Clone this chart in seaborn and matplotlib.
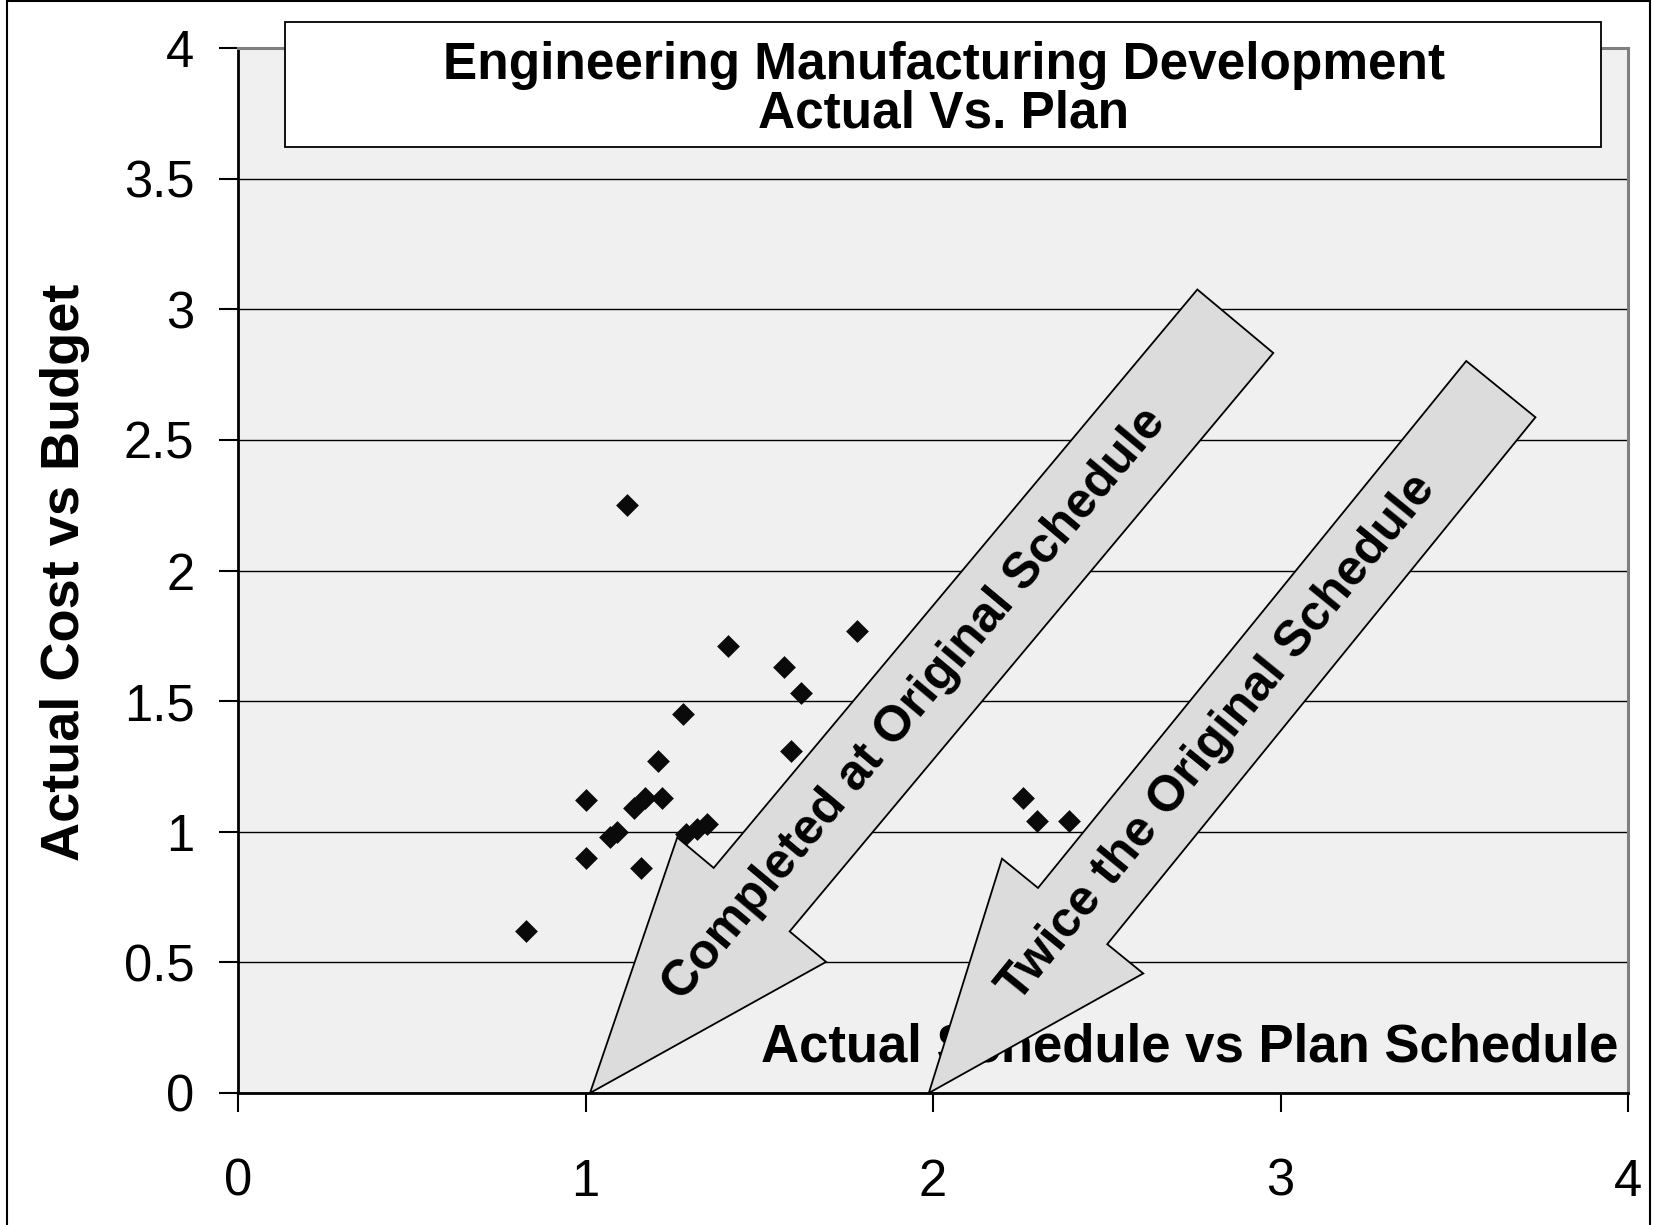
import numpy as np
import pandas as pd
import seaborn as sns
import matplotlib.pyplot as plt
from matplotlib.patches import Polygon, Rectangle
from matplotlib import transforms

# Programme outcomes: schedule ratio (actual / plan) and cost ratio (actual / budget)
schedule_ratio = [1.12, 1.41, 1.78, 1.57, 1.62, 1.28, 1.59, 1.21, 1.00, 1.22,
                  1.17, 1.14, 1.07, 1.09, 1.29, 1.32, 1.35, 1.00, 1.16, 0.83,
                  2.26, 2.30, 2.39]
cost_ratio = [2.25, 1.71, 1.77, 1.63, 1.53, 1.45, 1.31, 1.27, 1.12, 1.13,
              1.13, 1.09, 0.98, 1.00, 0.99, 1.01, 1.03, 0.90, 0.86, 0.62,
              1.13, 1.04, 1.04]

x_ticks = [0, 1, 2, 3, 4]
y_ticks = [0, 0.5, 1, 1.5, 2, 2.5, 3, 3.5, 4]
y_tick_labels = ["0", "0.5", "1", "1.5", "2", "2.5", "3", "3.5", "4"]

title_lines = ["Engineering Manufacturing Development", "Actual Vs. Plan"]
x_label = "Actual Schedule vs Plan Schedule"
y_label = "Actual Cost vs Budget"
arrow_labels = ["Completed at Original Schedule", "Twice the Original Schedule"]
arrow_tips = [1.013, 1.988]  # schedule ratio where each arrow points

sns.set_theme(style="white")
plt.rcParams["font.family"] = ["Liberation Sans", "DejaVu Sans"]

W, H = 1653, 1225
fig = plt.figure(figsize=(W / 100, H / 100), dpi=100)
fig.patch.set_facecolor("white")

ax = fig.add_axes([238 / W, (H - 1093) / H, 1390 / W, 1045 / H])
ax.set_facecolor("#f0f0f0")

df = pd.DataFrame({"schedule": schedule_ratio, "cost": cost_ratio})
sns.scatterplot(data=df, x="schedule", y="cost", marker="D", s=135,
                color="#0a0a0a", linewidth=0, ax=ax, zorder=4)

ax.set_xlim(0, 4)
ax.set_ylim(0, 4)
ax.set_xticks(x_ticks)
ax.set_xticklabels([str(t) for t in x_ticks])
ax.set_yticks(y_ticks)
ax.set_yticklabels(y_tick_labels)
ax.set_xlabel("")
ax.set_ylabel("")

ax.yaxis.grid(True, color="black", linewidth=1.0)
ax.xaxis.grid(False)
ax.set_axisbelow(True)

for side in ("left", "bottom"):
    ax.spines[side].set_color("black")
    ax.spines[side].set_linewidth(2.0)
for side in ("top", "right"):
    ax.spines[side].set_color("#808080")
    ax.spines[side].set_linewidth(2.2)

ax.tick_params(axis="both", which="major", direction="out", length=13.5,
               width=1.5, color="black", labelsize=36.5, labelcolor="black",
               bottom=True, left=True)
ax.tick_params(axis="y", pad=18)
ax.tick_params(axis="x", pad=33)

# Axis caption sits inside the plot area, under the arrows
ax.text(0.9928, 0.044, x_label, transform=ax.transAxes, ha="right",
        va="center", fontsize=38, fontweight="bold", color="black", zorder=2)

fig.text(65 / W, 1 - 572 / H, y_label, rotation=90, ha="center", va="center",
         fontsize=39, fontweight="bold", color="black")

# Block arrows drawn in pixel units around their tip
arrow_geom = [
    # angle, length, shaft half-width, head half-width, head length, text offset
    (50.1, 1006, 49.5, 97, 252, 507),
    (50.9, 907, 44.6, 91, 228, 458),
]
for tip_x, label, (ang, L, w, hw, hl, toff) in zip(arrow_tips, arrow_labels, arrow_geom):
    verts = [(0, 0), (hl, hw), (hl, w), (L, w), (L, -w), (hl, -w), (hl, -hw)]
    tr = transforms.Affine2D().rotate_deg(ang) + \
        transforms.ScaledTranslation(tip_x, 0, ax.transData)
    poly = Polygon(verts, closed=True, facecolor="#dcdcdc", edgecolor="black",
                   linewidth=1.3, transform=tr, zorder=5, clip_on=False)
    ax.add_patch(poly)
    rad = np.deg2rad(ang)
    ttr = transforms.offset_copy(ax.transData, fig=fig, x=toff * np.cos(rad),
                                 y=toff * np.sin(rad), units="dots")
    ax.text(tip_x, 0, label, transform=ttr, rotation=ang, rotation_mode="anchor",
            ha="center", va="center", fontsize=36, fontweight="bold",
            color="black", zorder=6)

# Title box overlapping the top of the plot area
fig.add_artist(Rectangle((285 / W, 1 - 146.5 / H), (1601 - 285) / W, 125 / H,
                         transform=fig.transFigure, facecolor="white",
                         edgecolor="black", linewidth=1.3, zorder=10))
fig.text(944 / W, 1 - 79 / H, title_lines[0], ha="center", va="baseline",
         fontsize=37, fontweight="bold", color="black", zorder=11)
fig.text(944 / W, 1 - 128 / H, title_lines[1], ha="center", va="baseline",
         fontsize=37, fontweight="bold", color="black", zorder=11)

# Outer frame of the chart
fig.add_artist(Rectangle((7 / W, -0.01), (1650 - 7) / W, 1.01 - 1 / H,
                         transform=fig.transFigure, facecolor="none",
                         edgecolor="black", linewidth=1.5, zorder=12))

fig.savefig("out.png", dpi=100, facecolor="white")
